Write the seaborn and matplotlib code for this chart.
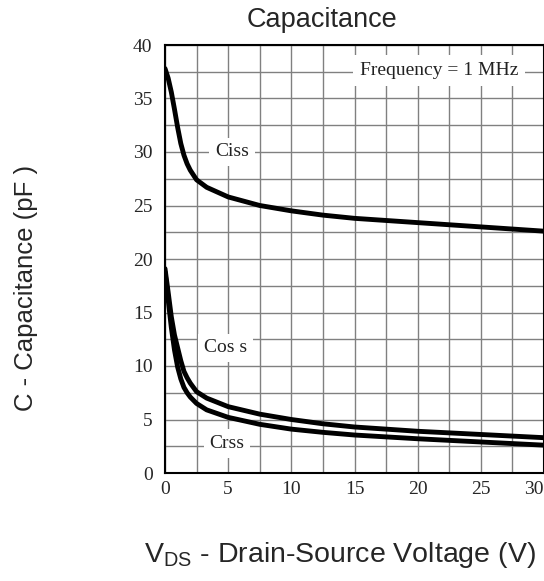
import numpy as np
import pandas as pd
import matplotlib
matplotlib.use("Agg")
import matplotlib.pyplot as plt
import seaborn as sns

# Valeurs (V, pF)
vds = [0, 0.25, 0.5, 0.75, 1, 1.25, 1.5, 1.75, 2, 2.5, 3.3, 5, 7.5, 10, 12.5, 15, 20, 25, 30]
ciss = [37.8, 36.9, 35.6, 34.0, 32.3, 30.8, 29.7, 28.9, 28.3, 27.4, 26.7, 25.8, 25.0, 24.5, 24.1, 23.8, 23.4, 23.0, 22.6]
coss = [19.1, 16.9, 14.6, 12.9, 11.7, 10.5, 9.5, 8.9, 8.4, 7.6, 7.0, 6.2, 5.5, 5.0, 4.6, 4.3, 3.9, 3.6, 3.3]
crss = [18.8, 16.2, 13.6, 11.5, 9.9, 8.8, 8.0, 7.5, 7.1, 6.5, 5.9, 5.2, 4.55, 4.1, 3.8, 3.55, 3.2, 2.9, 2.6]

curve_names = ["Ciss", "Coss", "Crss"]
labels = {"Ciss": ("Ciss", 5.3, 30.0), "Coss": ("Cos s", 4.8, 11.7), "Crss": ("Crss", 4.9, 2.75)}
freq_text = "Frequency = 1 MHz"

df = pd.DataFrame({
    "V": vds * 3,
    "C": ciss + coss + crss,
    "curve": np.repeat(curve_names, len(vds)),
})

sns.set_style("white")
plt.rcParams["font.family"] = ["Liberation Sans", "DejaVu Sans"]

fig = plt.figure(figsize=(5.44, 5.81), dpi=100)
ax = fig.add_axes([165 / 544, 1 - 473 / 581, 1 - 165 / 544, (473 - 45) / 581])

sns.lineplot(data=df, x="V", y="C", hue="curve", palette={c: "black" for c in curve_names},
             linewidth=3.5, legend=False, sort=False, ax=ax, zorder=3)

ax.set_xlim(0, 30)
ax.set_ylim(0, 40)
ax.set_xticks(np.arange(0, 31, 5))
ax.set_yticks(np.arange(0, 41, 5))
ax.set_xticks(np.arange(0, 31, 2.5), minor=True)
ax.set_yticks(np.arange(0, 41, 2.5), minor=True)
ax.grid(which="both", color="#808080", linewidth=1)
ax.tick_params(which="both", length=0)
ax.tick_params(axis="x", pad=6)
ax.tick_params(axis="y", pad=9)
for lab in ax.get_xticklabels() + ax.get_yticklabels():
    lab.set_fontfamily("Liberation Serif")
    lab.set_fontsize(14)
ax.get_xticklabels()[-1].set_horizontalalignment("right")
for s in ax.spines.values():
    s.set_color("black")
    s.set_linewidth(1.5)
ax.set_xlabel("")
ax.set_ylabel("")

# étiquettes des courbes
for name in curve_names:
    txt, x, y = labels[name]
    ax.text(x, y, txt, ha="center", va="center", fontsize=14, family="Liberation Serif",
            color="#222222", zorder=4, bbox=dict(facecolor="white", edgecolor="none", pad=4))

ax.text(21.7, 37.6, freq_text, ha="center", va="center", fontsize=14, family="Liberation Serif",
        color="#222222", zorder=4, bbox=dict(facecolor="white", edgecolor="none", pad=5))

fig.text(322 / 544, 1 - 20 / 581, "Capacitance", ha="center", va="center", fontsize=19.5)
fig.text(340 / 544, 1 - 555 / 581, r"V$_{\mathregular{DS}}$ - Drain-Source Voltage (V)",
         ha="center", va="center", fontsize=20.5)
fig.text(26 / 544, 1 - 288 / 581, "C - Capacitance (pF )", ha="center", va="center",
         rotation=90, fontsize=18.5)

plt.savefig("out.png", dpi=100)
